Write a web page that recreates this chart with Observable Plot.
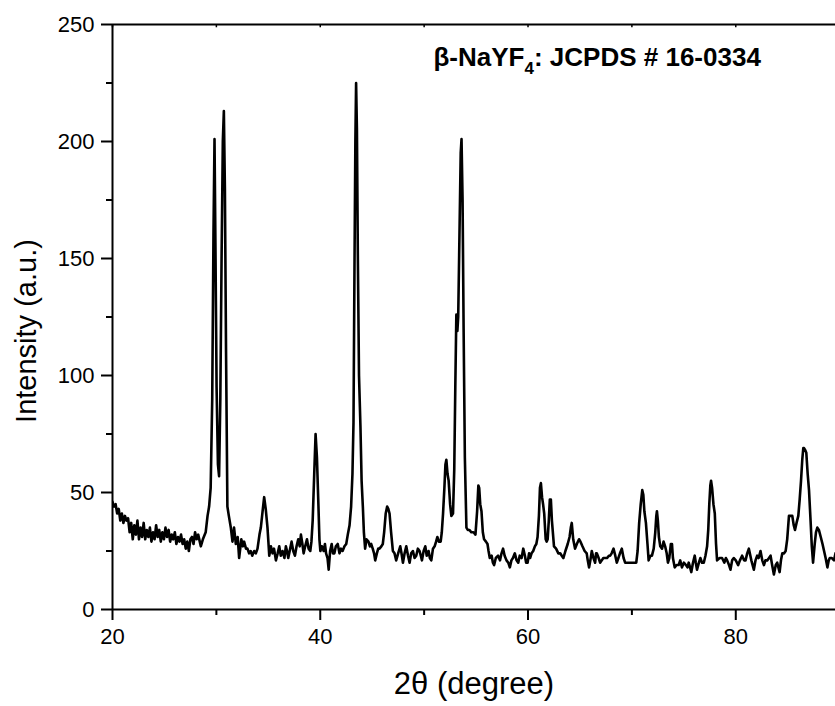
<!DOCTYPE html>
<html>
<head>
<meta charset="utf-8">
<script src="https://cdn.jsdelivr.net/npm/d3@7"></script>
<script src="https://cdn.jsdelivr.net/npm/@observablehq/plot@0.6"></script>
<style>
  html, body { margin: 0; padding: 0; background: #fff; overflow: hidden; }
  svg text { font-family: "Liberation Sans", Arial, sans-serif; }
</style>
</head>
<body>
<div id="chart"></div>
<script>
// 2θ (degree) values of the XRD trace
const twoTheta = [
20.0,20.15,20.3,20.45,20.6,20.75,20.9,21.05,21.2,21.35,21.5,21.65,21.8,21.95,22.1,22.25,22.4,22.55,22.7,22.85,
23.0,23.15,23.3,23.45,23.6,23.75,23.9,24.05,24.2,24.35,24.5,24.65,24.8,24.95,25.1,25.25,25.4,25.55,25.7,25.85,
26.0,26.15,26.3,26.45,26.6,26.75,26.9,27.05,27.2,27.35,27.5,27.65,27.8,27.95,28.1,28.25,28.4,28.5,28.7,28.97,
29.15,29.3,29.45,29.6,29.72,29.82,29.92,30.02,30.15,30.26,30.38,30.5,30.62,30.72,30.82,30.93,31.06,31.2,31.39,31.55,
31.7,31.87,32.05,32.19,32.4,32.55,32.67,32.85,32.99,33.15,33.3,33.45,33.64,33.8,33.96,34.15,34.28,34.45,34.6,34.75,
34.92,35.09,35.25,35.41,35.55,35.73,35.9,36.05,36.2,36.37,36.55,36.69,36.8,36.92,37.1,37.24,37.4,37.56,37.72,37.88,
38.02,38.14,38.28,38.4,38.55,38.72,38.88,39.04,39.15,39.27,39.42,39.55,39.68,39.82,39.92,40.01,40.15,40.33,40.45,40.56,
40.7,40.81,40.95,41.1,41.22,41.36,41.5,41.68,41.85,42.0,42.15,42.33,42.5,42.65,42.82,42.97,43.1,43.2,43.3,43.38,
43.45,43.53,43.62,43.73,43.87,43.98,44.1,44.2,44.32,44.45,44.64,44.78,44.9,45.05,45.18,45.29,45.45,45.58,45.7,45.88,
46.02,46.15,46.3,46.44,46.55,46.67,46.82,46.99,47.15,47.31,47.5,47.7,47.82,47.96,48.12,48.28,48.45,48.6,48.75,48.92,
49.08,49.24,49.4,49.56,49.68,49.79,49.95,50.11,50.25,50.43,50.55,50.69,50.85,51.01,51.15,51.27,51.42,51.59,51.7,51.82,
51.95,52.05,52.14,52.25,52.36,52.5,52.62,52.78,52.9,53.0,53.1,53.2,53.28,53.4,53.52,53.6,53.7,53.8,53.92,54.07,
54.2,54.35,54.55,54.75,54.94,55.1,55.22,55.3,55.4,55.52,55.65,55.77,55.95,56.1,56.2,56.32,56.5,56.62,56.74,56.9,
57.12,57.3,57.45,57.6,57.75,57.93,58.1,58.25,58.4,58.55,58.73,58.9,59.06,59.2,59.38,59.54,59.7,59.82,59.96,60.1,
60.2,60.34,60.5,60.66,60.8,60.92,61.05,61.15,61.24,61.35,61.45,61.56,61.7,61.8,61.89,62.0,62.1,62.2,62.3,62.5,
62.7,62.92,63.1,63.25,63.4,63.6,63.82,64.0,64.12,64.21,64.35,64.53,64.7,64.91,65.05,65.24,65.45,65.65,65.75,65.88,
66.0,66.14,66.3,66.46,66.55,66.62,66.8,66.94,67.1,67.25,67.42,67.6,67.8,67.91,68.05,68.23,68.4,68.55,68.7,68.85,
69.03,69.2,69.35,69.55,69.8,70.0,70.2,70.42,70.55,70.7,70.85,71.0,71.1,71.2,71.35,71.5,71.61,71.78,71.93,72.1,
72.25,72.35,72.41,72.5,72.6,72.73,72.9,73.05,73.2,73.35,73.47,73.6,73.75,73.86,73.95,74.12,74.3,74.5,74.65,74.82,
75.0,75.21,75.35,75.47,75.6,75.72,75.88,76.05,76.15,76.27,76.45,76.59,76.75,76.92,77.08,77.24,77.35,77.45,77.55,77.62,
77.72,77.85,77.98,78.1,78.2,78.45,78.68,78.9,79.05,79.17,79.35,79.49,79.65,79.81,80.0,80.23,80.4,80.61,80.8,80.94,
81.1,81.26,81.5,81.74,81.9,82.06,82.2,82.38,82.55,82.71,82.85,83.03,83.2,83.35,83.5,83.67,83.85,83.99,84.1,84.22,
84.35,84.48,84.65,84.8,84.95,85.12,85.3,85.44,85.58,85.7,85.85,86.02,86.15,86.28,86.4,86.5,86.57,86.7,86.79,86.92,
87.05,87.2,87.32,87.44,87.6,87.72,87.85,88.0,88.18,88.35,88.5,88.65,88.82,88.95,89.05,89.25,89.46,89.6
];
// Intensity (a.u.) values
const intensity = [
46,44,45,41,43,38,41,37,40,38,39,33,37,30,36,32,38,30,35,31,
37,30,34,31,35,29,33,30,36,31,34,29,33,30,35,31,34,29,32,30,
33,28,31,29,32,28,30,26,29,25,30,31,28,33,30,32,29,27,30,33,
40,44,52,90,160,201,150,95,62,57,90,150,200,213,180,110,44,40,35,29,
35,28,31,22,30,27,29,26,26,24,25,23,25,24,26,32,35,42,48,43,
35,23,27,24,26,21,24,27,23,25,22,27,25,22,26,29,25,23,27,30,
27,32,28,24,27,30,26,25,29,38,58,75,65,45,30,25,27,25,28,24,
22,17,25,28,24,24,27,28,24,26,25,27,28,32,36,44,58,80,150,200,
225,205,150,100,78,55,44,33,26,30,29,27,28,26,24,21,24,26,26,27,
28,33,41,44,43,41,33,25,24,21,24,27,24,20,24,27,23,20,24,25,
22,23,26,25,23,21,25,27,23,25,22,21,26,27,29,31,29,29,33,41,
52,62,64,58,55,45,40,41,60,95,126,119,125,160,195,201,175,120,65,35,
34,34,33,33,32,42,53,52,45,42,33,30,29,28,25,22,23,20,19,22,
23,21,24,26,23,21,20,18,21,22,24,21,20,23,22,26,23,20,20,24,
22,24,25,27,28,31,40,52,54,48,45,41,30,29,30,38,47,47,38,27,
26,24,24,23,22,25,28,31,35,37,30,26,28,30,29,27,25,24,21,18,
21,25,22,20,24,24,22,20,21,22,22,22,23,23,24,26,23,20,22,24,
26,22,20,20,20,20,20,20,25,37,45,51,49,42,37,28,21,23,23,26,
33,40,42,38,31,27,26,29,27,24,20,22,28,28,22,18,19,19,21,18,
20,19,18,20,18,16,20,23,20,17,20,22,20,20,23,27,34,45,53,55,
52,45,41,28,21,22,22,20,22,21,19,17,21,22,21,19,21,23,21,21,
24,26,21,17,21,23,22,25,21,19,21,21,22,23,19,15,19,20,18,16,
21,24,24,25,30,40,40,40,36,34,37,40,47,55,64,69,69,68,67,58,
51,38,27,20,28,33,35,34,31,28,25,22,18,21,22,22,21,24
];
const xMajorTicks = [20, 40, 60, 80];
const xMinorTicks = [30, 50, 70];
const xTopTicks = [20, 30, 40, 50, 60, 70, 80];
const yMajorTicks = [0, 50, 100, 150, 200, 250];
const yMinorTicks = [25, 75, 125, 175, 225];
const xTitle = "2θ (degree)";
const yTitle = "Intensity (a.u.)";
const noteMain = "β-NaYF";
const noteSub = "4";
const noteTail = ": JCPDS # 16-0334";

const data = twoTheta.map((x, i) => ({x, y: intensity[i]}));

const chart = Plot.plot({
  width: 835,
  height: 706,
  marginLeft: 112,
  marginRight: 0,
  marginTop: 24,
  marginBottom: 97,
  style: {fontFamily: "'Liberation Sans', Arial, sans-serif", color: "#000", background: "#fff"},
  x: {domain: [20, 89.6]},
  y: {domain: [0, 250]},
  marks: [
    Plot.line(data, {x: "x", y: "y", stroke: "#000", strokeWidth: 2.6, strokeLinejoin: "round", clip: true}),
    Plot.ruleX([20], {stroke: "#000", strokeWidth: 2}),
    Plot.ruleY([0], {stroke: "#000", strokeWidth: 2}),
    Plot.ruleY([250], {stroke: "#000", strokeWidth: 2}),
    Plot.ruleX(xTopTicks, {x: d => d, y1: 250, y2: 248.6, stroke: "#000", strokeWidth: 1.5}),
    Plot.axisX({ticks: xMajorTicks, tickSize: 11, tickPadding: 8, fontSize: 22, strokeWidth: 2, label: null, tickFormat: d => String(d)}),
    Plot.axisX({ticks: xMinorTicks, tickSize: 6, strokeWidth: 2, label: null, tickFormat: () => ""}),
    Plot.axisY({ticks: yMajorTicks, tickSize: 11, tickPadding: 7, fontSize: 22, strokeWidth: 2, label: null, tickFormat: d => String(d)}),
    Plot.axisY({ticks: yMinorTicks, tickSize: 6, strokeWidth: 2, label: null, tickFormat: () => ""}),
    Plot.text([xTitle], {frameAnchor: "bottom", dy: 84, lineAnchor: "bottom", fontSize: 31, fill: "#000"}),
    Plot.text([yTitle], {frameAnchor: "left", dx: -86, dy: 14, rotate: -90, lineAnchor: "middle", textAnchor: "middle", fontSize: 29, fill: "#000"}),
    Plot.text([noteMain + noteSub + noteTail], {x: 50.9, y: 236, textAnchor: "start", lineAnchor: "middle", fontSize: 26, fontWeight: "bold", fill: "#000"})
  ]
});

// Typeset the subscript in the annotation
const full = noteMain + noteSub + noteTail;
for (const t of chart.querySelectorAll("text")) {
  if (t.textContent === full) {
    t.textContent = "";
    const ns = "http://www.w3.org/2000/svg";
    const a = document.createElementNS(ns, "tspan"); a.textContent = noteMain;
    const b = document.createElementNS(ns, "tspan"); b.textContent = noteSub;
    b.setAttribute("dy", "8"); b.setAttribute("font-size", "17");
    const c = document.createElementNS(ns, "tspan"); c.textContent = noteTail;
    c.setAttribute("dy", "-8");
    t.append(a, b, c);
  }
}
document.getElementById("chart").append(chart);
</script>
</body>
</html>
